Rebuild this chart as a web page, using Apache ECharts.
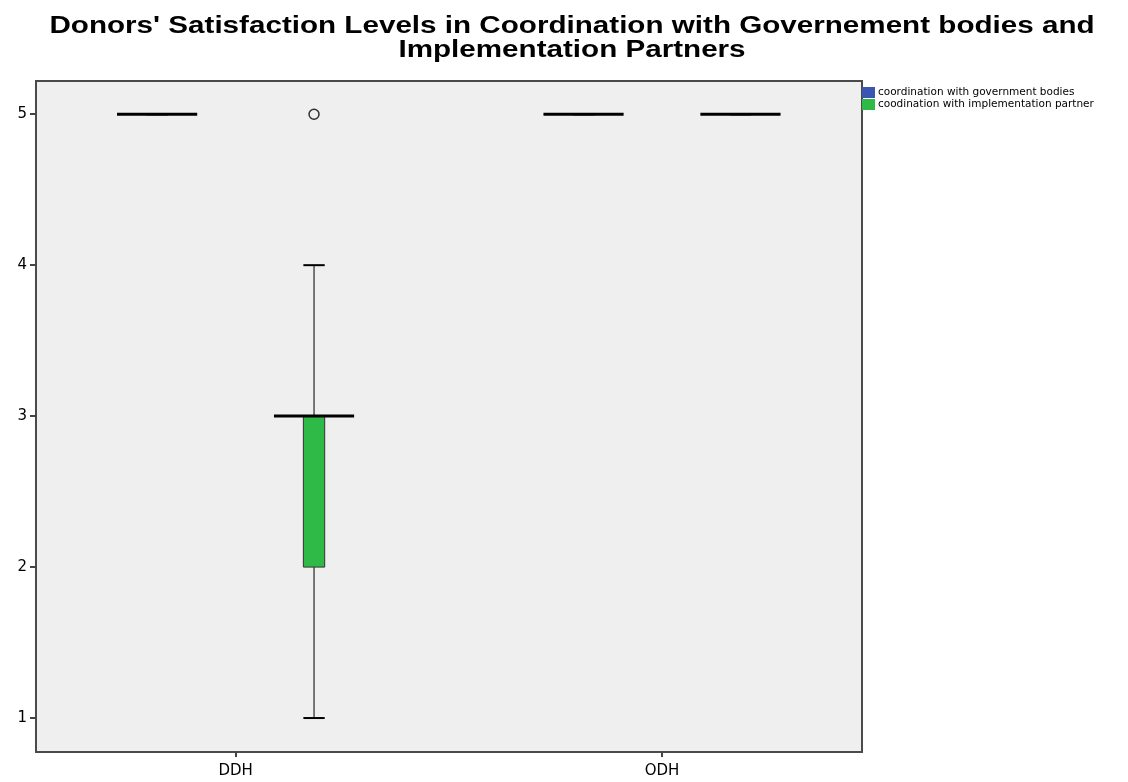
<!DOCTYPE html>
<html>
<head>
<meta charset="utf-8">
<script src="https://cdn.jsdelivr.net/npm/echarts@6/dist/echarts.min.js"></script>
<style>
  html, body { margin: 0; padding: 0; background: #ffffff; }
  #chart { width: 1128px; height: 782px; }
</style>
</head>
<body>
<div id="chart"></div>
<script>
// Donor groups along the x axis
const groups = ['DDH', 'ODH'];
// Box statistics per group: [min, Q1, median, Q3, max]
const govStats = [[5, 5, 5, 5, 5], [5, 5, 5, 5, 5]];
const partnerStats = [[1, 2, 3, 3, 4], [5, 5, 5, 5, 5]];
// Outliers: [group index, value]
const partnerOutliers = [[0, 5]];
const yTicks = [1, 2, 3, 4, 5];
const seriesNames = ['coordination with government bodies', 'coodination with implementation partner'];
const titleLines = ["Donors' Satisfaction Levels in Coordination with Governement bodies and", 'Implementation Partners'];

const GROUP_SHIFT = 0.184;   // offset of each box from the group centre (x units)
const MEDIAN_HALF = 0.094;   // half width of the median bar (x units)
const BOX_HALF = 0.025;      // half width of the box and whisker caps (x units)
const FONT = 'Liberation Sans, Arial, sans-serif';
const WIDE_FONT = 'DejaVu Sans, Liberation Sans, sans-serif';

function boxRenderer(shift, fill) {
  return function (params, api) {
    const x = api.value(0) + shift;
    const mn = api.value(1), q1 = api.value(2), md = api.value(3), q3 = api.value(4), mx = api.value(5);
    const c = (xv, yv) => api.coord([xv, yv]);
    const children = [];
    const line = (a, b, w) => ({
      type: 'line',
      shape: { x1: a[0], y1: a[1], x2: b[0], y2: b[1] },
      style: { stroke: '#000', lineWidth: w }
    });
    // whiskers and caps
    children.push(line(c(x, q3), c(x, mx), 1));
    children.push(line(c(x, q1), c(x, mn), 1));
    children.push(line(c(x - BOX_HALF, mx), c(x + BOX_HALF, mx), 2));
    children.push(line(c(x - BOX_HALF, mn), c(x + BOX_HALF, mn), 2));
    // box
    const tl = c(x - BOX_HALF, q3), br = c(x + BOX_HALF, q1);
    if (br[1] - tl[1] > 0.5) {
      children.push({
        type: 'rect',
        shape: { x: tl[0], y: tl[1], width: br[0] - tl[0], height: br[1] - tl[1] },
        style: { fill: fill, stroke: '#333', lineWidth: 1 }
      });
    }
    // median bar
    children.push(line(c(x - MEDIAN_HALF, md), c(x + MEDIAN_HALF, md), 3));
    return { type: 'group', children: children };
  };
}

// Title: two centred bold lines, drawn slightly widened
const titleGraphics = titleLines.map((t, i) => ({
  type: 'text',
  x: 572,
  y: 27 + i * 24,
  scaleX: 1.26,
  style: {
    text: t,
    fill: '#000',
    font: 'bold 23.5px ' + FONT,
    textAlign: 'center',
    textVerticalAlign: 'middle'
  }
}));

const chart = echarts.init(document.getElementById('chart'), null, { renderer: 'canvas' });
chart.setOption({
  animation: false,
  graphic: titleGraphics,
  legend: {
    orient: 'vertical',
    left: 862,
    top: 87,
    padding: 0,
    itemWidth: 13,
    itemHeight: 11,
    itemGap: 1,
    icon: 'rect',
    data: seriesNames,
    textStyle: { fontFamily: WIDE_FONT, fontSize: 10.5, color: '#000', padding: [0, 0, 0, -2] }
  },
  grid: {
    left: 36, right: 266, top: 81, bottom: 30,
    show: true,
    backgroundColor: '#efefef',
    borderColor: '#4a4a4a',
    borderWidth: 2
  },
  xAxis: {
    type: 'value',
    min: -0.468,
    max: 1.469,
    splitLine: { show: false },
    axisLine: { show: false, onZero: false },
    axisTick: { show: true, length: 5, customValues: [0, 1], lineStyle: { color: '#444', width: 2 } },
    axisLabel: {
      customValues: [0, 1],
      formatter: v => groups[Math.round(v)],
      fontFamily: WIDE_FONT,
      fontSize: 15,
      color: '#000',
      margin: 12
    }
  },
  yAxis: {
    type: 'value',
    min: 0.775,
    max: 5.22,
    splitLine: { show: false },
    axisLine: { show: false, onZero: false },
    axisTick: { show: true, length: 6, customValues: yTicks, lineStyle: { color: '#444', width: 2 } },
    axisLabel: {
      customValues: yTicks,
      fontFamily: WIDE_FONT,
      fontSize: 15,
      color: '#000',
      margin: 9
    }
  },
  series: [
    {
      name: seriesNames[0],
      type: 'custom',
      itemStyle: { color: '#3b55b3' },
      renderItem: boxRenderer(-GROUP_SHIFT, '#3b55b3'),
      data: govStats.map((s, i) => [i].concat(s)),
      encode: { x: 0, y: [1, 2, 3, 4, 5] }
    },
    {
      name: seriesNames[1],
      type: 'custom',
      itemStyle: { color: '#2fba48' },
      renderItem: boxRenderer(GROUP_SHIFT, '#2fba48'),
      data: partnerStats.map((s, i) => [i].concat(s)),
      encode: { x: 0, y: [1, 2, 3, 4, 5] }
    },
    {
      type: 'scatter',
      symbol: 'circle',
      symbolSize: 10,
      itemStyle: { color: '#efefef', borderColor: '#000', borderWidth: 1.5 },
      data: partnerOutliers.map(o => [o[0] + GROUP_SHIFT, o[1]])
    }
  ]
});
</script>
</body>
</html>
